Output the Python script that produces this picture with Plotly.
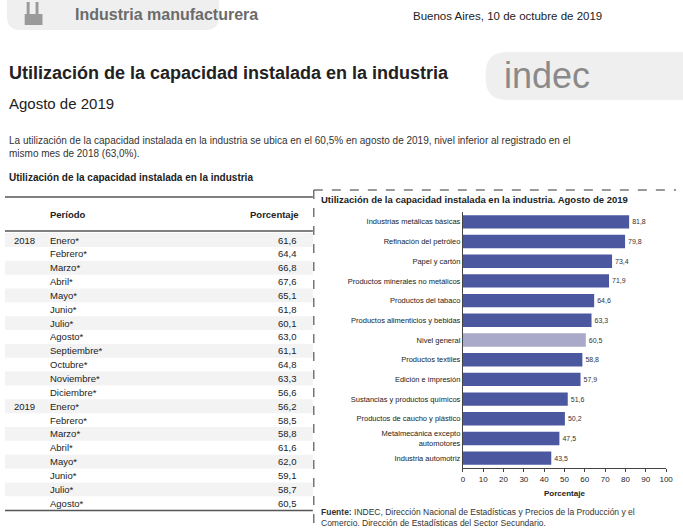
import plotly.graph_objects as go

W, H = 683, 530
sectores = ["Industrias metálicas básicas", "Refinación del petróleo", "Papel y cartón",
            "Productos minerales no metálicos", "Productos del tabaco",
            "Productos alimenticios y bebidas", "Nivel general", "Productos textiles",
            "Edición e impresión", "Sustancias y productos químicos",
            "Productos de caucho y plástico", "Metalmecánica excepto<br>automotores",
            "Industria automotriz"]
valores = [81.8, 79.8, 73.4, 71.9, 64.6, 63.3, 60.5, 58.8, 57.9, 51.6, 50.2, 47.5, 43.5]

meses = ["Enero*", "Febrero*", "Marzo*", "Abril*", "Mayo*", "Junio*", "Julio*", "Agosto*",
         "Septiembre*", "Octubre*", "Noviembre*", "Diciembre*", "Enero*", "Febrero*",
         "Marzo*", "Abril*", "Mayo*", "Junio*", "Julio*", "Agosto*"]
anios = ["2018"] + [""] * 11 + ["2019"] + [""] * 7
porcentajes = [61.6, 64.4, 66.8, 67.6, 65.1, 61.8, 60.1, 63.0, 61.1, 64.8, 63.3, 56.6,
               56.2, 58.5, 58.8, 61.6, 62.0, 59.1, 58.7, 60.5]

def fx(x): return x / W
def fy(y): return 1 - y / H
def fmt(v): return f"{v:.1f}".replace(".", ",")

def pill(x0, y0, x1, y1, r):
    return (f"M {fx(x0+r)},{fy(y0)} L {fx(x1-r)},{fy(y0)} Q {fx(x1)},{fy(y0)} {fx(x1)},{fy(y0+r)} "
            f"L {fx(x1)},{fy(y1-r)} Q {fx(x1)},{fy(y1)} {fx(x1-r)},{fy(y1)} "
            f"L {fx(x0+r)},{fy(y1)} Q {fx(x0)},{fy(y1)} {fx(x0)},{fy(y1-r)} "
            f"L {fx(x0)},{fy(y0+r)} Q {fx(x0)},{fy(y0)} {fx(x0+r)},{fy(y0)} Z")

AR = "Liberation Sans, Arial, sans-serif"
NR = "Liberation Sans Narrow, Arial Narrow, Liberation Sans, sans-serif"

colors = ["#a9aac9" if s == "Nivel general" else "#4b58a0" for s in sectores]
fig = go.Figure(go.Bar(
    y=sectores, x=valores, orientation="h", marker=dict(color=colors, line=dict(width=0)),
    width=0.68, text=[fmt(v) for v in valores], textposition="outside",
    textfont=dict(size=7, color="#333", family=AR), cliponaxis=False, hoverinfo="skip"))

shapes, ann = [], []
shapes.append(dict(type="path", xref="paper", yref="paper", path=pill(5, -20, 220, 30, 14),
                   fillcolor="#efefef", line=dict(width=0), layer="below"))
shapes.append(dict(type="rect", xref="paper", yref="paper", x0=fx(23), x1=fx(41), y0=fy(25), y1=fy(14),
                   fillcolor="#9a9a9a", line=dict(width=0)))
shapes.append(dict(type="rect", xref="paper", yref="paper", x0=fx(25), x1=fx(28), y0=fy(14), y1=fy(2),
                   fillcolor="#9a9a9a", line=dict(width=0)))
shapes.append(dict(type="rect", xref="paper", yref="paper", x0=fx(34), x1=fx(37), y0=fy(14), y1=fy(2),
                   fillcolor="#9a9a9a", line=dict(width=0)))
ann.append(dict(x=fx(72), y=fy(15), text="<b>Industria manufacturera</b>", xanchor="left", yanchor="middle",
                font=dict(size=16, color="#6b6b6b", family=AR)))
ann.append(dict(x=fx(610), y=fy(16), text="Buenos Aires, 10 de octubre de 2019", xanchor="right", yanchor="middle",
                font=dict(size=11.5, color="#222", family=AR)))
shapes.append(dict(type="path", xref="paper", yref="paper", path=pill(490, 52, 720, 100, 22),
                   fillcolor="#efefef", line=dict(width=0), layer="below"))
ann.append(dict(x=fx(552), y=fy(76), text="indec", xanchor="center", yanchor="middle",
                font=dict(size=36, color="#8a8a8a", family=AR)))
ann.append(dict(x=fx(5), y=fy(73), text="<b>Utilización de la capacidad instalada en la industria</b>",
                xanchor="left", yanchor="middle", font=dict(size=18, color="#222", family=AR)))
ann.append(dict(x=fx(5), y=fy(104), text="Agosto de 2019", xanchor="left", yanchor="middle",
                font=dict(size=15, color="#222", family=AR)))
ann.append(dict(x=fx(5), y=fy(147), text="La utilización de la capacidad instalada en la industria se ubica en el 60,5% en agosto de 2019, nivel inferior al registrado en el<br>mismo mes de 2018 (63,0%).",
                xanchor="left", yanchor="middle", align="left", font=dict(size=10, color="#333", family=NR)))
ann.append(dict(x=fx(5), y=fy(177), text="<b>Utilización de la capacidad instalada en la industria</b>",
                xanchor="left", yanchor="middle", font=dict(size=10, color="#222", family=NR)))

shapes.append(dict(type="line", xref="paper", yref="paper", x0=fx(3), x1=fx(315), y0=fy(197), y1=fy(197),
                   line=dict(color="#555", width=1.5)))
shapes.append(dict(type="line", xref="paper", yref="paper", x0=fx(3), x1=fx(315), y0=fy(231), y1=fy(231),
                   line=dict(color="#555", width=1.5)))
ann.append(dict(x=fx(47), y=fy(214), text="<b>Período</b>", xanchor="left", yanchor="middle",
                font=dict(size=9.5, color="#222", family=NR)))
ann.append(dict(x=fx(303), y=fy(214), text="<b>Porcentaje</b>", xanchor="right", yanchor="middle",
                font=dict(size=9.5, color="#222", family=NR)))
y0, pitch = 240.0, 13.85
for i, (a, m, p) in enumerate(zip(anios, meses, porcentajes)):
    yc = y0 + i * pitch
    if i % 2 == 0:
        shapes.append(dict(type="rect", xref="paper", yref="paper", x0=fx(3), x1=fx(315),
                           y0=fy(yc + pitch / 2), y1=fy(yc - pitch / 2), fillcolor="#f3f3f3",
                           line=dict(width=0), layer="below"))
    if a:
        ann.append(dict(x=fx(10), y=fy(yc), text=a, xanchor="left", yanchor="middle",
                        font=dict(size=9.5, color="#222", family=NR)))
    ann.append(dict(x=fx(47), y=fy(yc), text=m, xanchor="left", yanchor="middle",
                    font=dict(size=9.5, color="#222", family=NR)))
    ann.append(dict(x=fx(301), y=fy(yc), text=fmt(p), xanchor="right", yanchor="middle",
                    font=dict(size=9.5, color="#222", family=NR)))
yb = y0 + (len(meses) - 1) * pitch + pitch / 2 + 0.5
shapes.append(dict(type="line", xref="paper", yref="paper", x0=fx(3), x1=fx(315), y0=fy(yb), y1=fy(yb),
                   line=dict(color="#555", width=1.5)))

shapes.append(dict(type="line", xref="paper", yref="paper", x0=fx(316), x1=fx(683), y0=fy(190), y1=fy(190),
                   line=dict(color="#333", width=1, dash="dash")))
shapes.append(dict(type="line", xref="paper", yref="paper", x0=fx(316), x1=fx(316), y0=fy(190), y1=fy(530),
                   line=dict(color="#333", width=1, dash="dash")))
ann.append(dict(x=fx(321), y=fy(199), text="<b>Utilización de la capacidad instalada en la industria. Agosto de 2019</b>",
                xanchor="left", yanchor="middle", font=dict(size=9.5, color="#222", family=NR)))
ann.append(dict(x=fx(570), y=fy(493), text="<b>Porcentaje</b>", xanchor="center", yanchor="middle",
                font=dict(size=8, color="#222", family=AR)))
ann.append(dict(x=fx(321), y=fy(517), text="<b>Fuente:</b> INDEC, Dirección Nacional de Estadísticas y Precios de la Producción y el<br>Comercio. Dirección de Estadísticas del Sector Secundario.",
                xanchor="left", yanchor="middle", align="left", font=dict(size=8.5, color="#333", family=AR)))

for a in ann:
    a.update(xref="paper", yref="paper", showarrow=False)

fig.update_layout(
    width=W, height=H, autosize=False, margin=dict(l=0, r=0, t=0, b=0),
    paper_bgcolor="white", plot_bgcolor="white", showlegend=False,
    shapes=shapes, annotations=ann,
    xaxis=dict(domain=[fx(467), fx(673)], range=[0, 100], tickvals=list(range(0, 101, 10)),
               showgrid=False, zeroline=False,
               showline=True, linecolor="#444", ticks="outside", ticklen=3, tickcolor="#444",
               tickfont=dict(size=8, color="#222", family=AR)),
    yaxis=dict(domain=[fy(468), fy(212)], autorange="reversed", showgrid=False, showline=True,
               linecolor="#444", ticks="", tickfont=dict(size=7.5, color="#222", family=AR)),
)
fig.write_html("out.html", config={"displayModeBar": False},
               post_script="document.body.style.margin='0';document.body.style.overflow='hidden';")
